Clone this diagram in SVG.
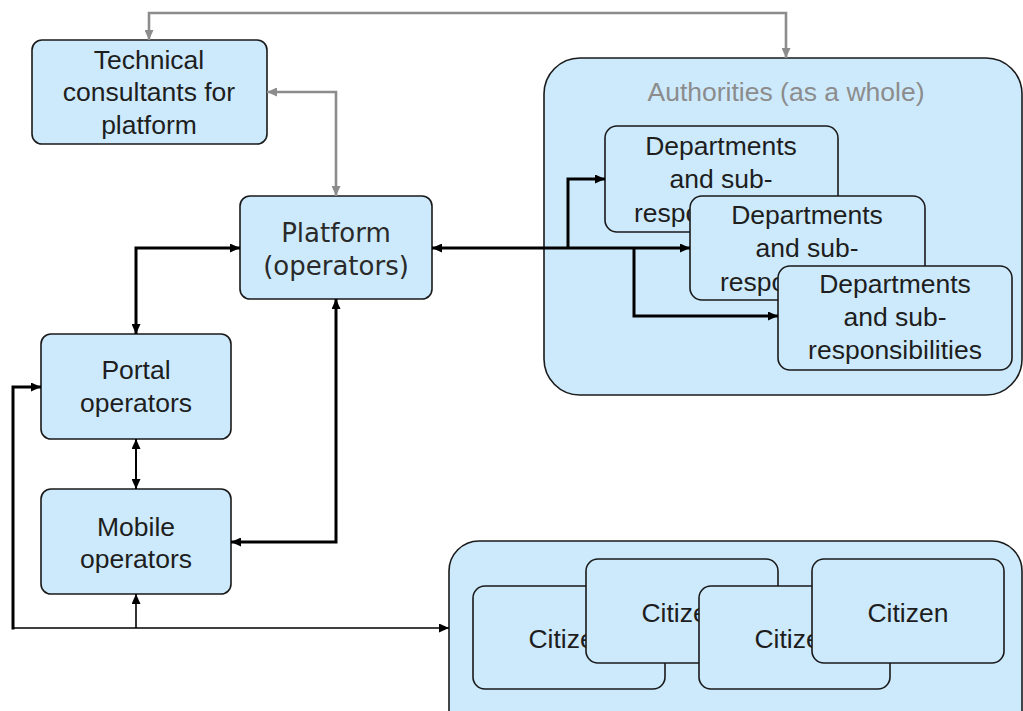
<svg xmlns="http://www.w3.org/2000/svg" width="1023" height="711" viewBox="0 0 1023 711">
<style>
.box{fill:#cdeafc;stroke:#1a1a1a;stroke-width:1.6}
.t{font-family:"Liberation Sans",Arial,sans-serif;font-size:26.5px;fill:#1e1e1e;text-anchor:middle}
.s{text-anchor:start}
.v{font-family:"DejaVu Sans",Verdana,sans-serif;font-size:26px;fill:#2a2a2a;text-anchor:middle}
.g{fill:#8c8c8c}
.k{fill:none;stroke:#000;stroke-width:3}
.kt{fill:none;stroke:#000;stroke-width:1.6}
.gr{fill:none;stroke:#8c8c8c;stroke-width:2.6}
</style>
<defs>
<marker id="ak" markerUnits="userSpaceOnUse" markerWidth="10" markerHeight="9" refX="10" refY="4.5" orient="auto-start-reverse"><path d="M0,0 L10,4.5 L0,9 z" fill="#000"/></marker>
<marker id="ag" markerUnits="userSpaceOnUse" markerWidth="10" markerHeight="9" refX="10" refY="4.5" orient="auto-start-reverse"><path d="M0,0 L10,4.5 L0,9 z" fill="#8c8c8c"/></marker>
</defs>
<rect width="1023" height="711" fill="#fff"/>

<g id="authorities">
<rect class="box" x="544" y="58" width="478" height="337" rx="36"/>
<text class="t g" x="786" y="101">Authorities (as a whole)</text>
</g>
<g id="dept1">
<rect class="box" x="605" y="126" width="233" height="106" rx="12"/>
<text class="t" x="721" y="155">Departments</text>
<text class="t" x="721" y="188">and sub-</text>
<text class="t s" x="634" y="222">respo</text>
</g>
<g id="dept2">
<rect class="box" x="690" y="196" width="235" height="104" rx="12"/>
<text class="t" x="807" y="224">Departments</text>
<text class="t" x="807" y="257">and sub-</text>
<text class="t s" x="720" y="291">respo</text>
</g>
<g id="dept3">
<rect class="box" x="778" y="266" width="234" height="104" rx="12"/>
<text class="t" x="895" y="293">Departments</text>
<text class="t" x="895" y="326">and sub-</text>
<text class="t" x="895" y="359">responsibilities</text>
</g>

<g id="citizens">
<rect class="box" x="449" y="541" width="573" height="200" rx="30"/>
</g>
<g id="citizenA">
<rect class="box" x="473" y="586" width="192" height="103" rx="12"/>
<text class="t" x="569" y="648">Citizen</text>
</g>
<g id="citizenB">
<rect class="box" x="586" y="559" width="192" height="104" rx="12"/>
<text class="t" x="682" y="622">Citizen</text>
</g>
<g id="citizenC">
<rect class="box" x="699" y="586" width="191" height="103" rx="12"/>
<text class="t" x="795" y="648">Citizen</text>
</g>
<g id="citizenD">
<rect class="box" x="812" y="559" width="192" height="104" rx="12"/>
<text class="t" x="908" y="622">Citizen</text>
</g>

<g id="technical">
<rect class="box" x="32" y="40" width="235" height="104" rx="10"/>
<text class="t" x="149" y="69">Technical</text>
<text class="t" x="149" y="101">consultants for</text>
<text class="t" x="149" y="134">platform</text>
</g>
<g id="platform">
<rect class="box" x="240" y="196" width="192" height="103" rx="10"/>
<text class="v" x="336" y="242">Platform</text>
<text class="v" x="336" y="275">(operators)</text>
</g>
<g id="portal">
<rect class="box" x="41" y="334" width="190" height="105" rx="10"/>
<text class="t" x="136" y="379">Portal</text>
<text class="t" x="136" y="412">operators</text>
</g>
<g id="mobile">
<rect class="box" x="41" y="489" width="190" height="105" rx="10"/>
<text class="t" x="136" y="536">Mobile</text>
<text class="t" x="136" y="568">operators</text>
</g>

<g id="connectors">
<path class="gr" d="M149,40 V13 H786 V58" marker-start="url(#ag)" marker-end="url(#ag)"/>
<path class="gr" d="M267,92 H336 V196" marker-start="url(#ag)" marker-end="url(#ag)"/>
<path class="k" d="M136,334 V248 H240" marker-start="url(#ak)" marker-end="url(#ak)"/>
<path class="kt" d="M136,439 V489" marker-start="url(#ak)" marker-end="url(#ak)" style="stroke-width:2"/>
<path class="k" d="M336,299 V542 H231" marker-start="url(#ak)" marker-end="url(#ak)"/>
<path class="k" d="M432,248 H690" marker-start="url(#ak)" marker-end="url(#ak)"/>
<path class="k" d="M568,248 V179 H605" marker-end="url(#ak)"/>
<path class="k" d="M634,248 V316 H778" marker-end="url(#ak)"/>
<path class="kt" d="M13,628 H449" marker-end="url(#ak)"/>
<path class="k" d="M13,629.5 V387 H41" marker-end="url(#ak)"/>
<path class="kt" d="M136,628 V594" marker-end="url(#ak)"/>
</g>
</svg>
